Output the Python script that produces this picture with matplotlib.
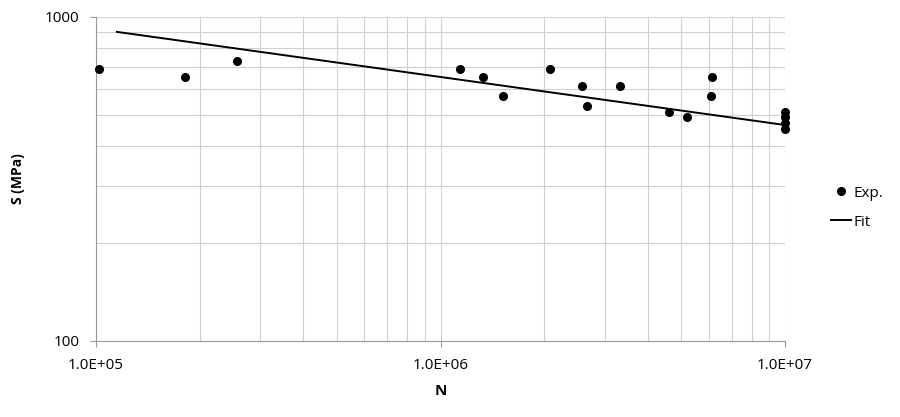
import numpy as np
import matplotlib.pyplot as plt
from matplotlib.ticker import LogLocator, FixedLocator, NullFormatter

plt.rcParams['font.family'] = ['Open Sans', 'DejaVu Sans']

# experimental points (cycles to failure, stress amplitude in MPa)
n_exp = [1.02e5, 1.81e5, 2.57e5, 1.14e6, 1.33e6, 1.52e6, 2.08e6, 2.58e6,
         2.66e6, 3.31e6, 4.61e6, 5.20e6, 6.12e6, 6.10e6,
         1.0e7, 1.0e7, 1.0e7, 1.0e7]
s_exp = [691, 653, 732, 691, 654, 571, 691, 611,
         530, 611, 510, 492, 654, 571,
         510, 490, 470, 451]

# power-law fit S = A * N^b
fit_A = 5058.0
fit_b = -0.1482
fit_nmin, fit_nmax = 1.15e5, 1.0e7

n_fit = np.geomspace(fit_nmin, fit_nmax, 50)
s_fit = fit_A * n_fit ** fit_b

fig = plt.figure(figsize=(9, 4.17), dpi=100)
ax = fig.add_axes([0.1067, 0.1823, 0.7655, 0.777])

ax.set_xscale('log')
ax.set_yscale('log')
ax.set_xlim(1e5, 1e7)
ax.set_ylim(100, 1000)

ax.plot(n_exp, s_exp, 'o', color='black', ms=5.5, label='Exp.', zorder=3,
        clip_on=False)
ax.plot(n_fit, s_fit, '-', color='black', lw=1.4, label='Fit', zorder=3)

ax.xaxis.set_major_locator(FixedLocator([1e5, 1e6, 1e7]))
ax.xaxis.set_minor_locator(LogLocator(base=10, subs=np.arange(2, 10)))
ax.yaxis.set_major_locator(FixedLocator([100, 1000]))
ax.yaxis.set_minor_locator(LogLocator(base=10, subs=np.arange(2, 10)))
ax.xaxis.set_minor_formatter(NullFormatter())
ax.yaxis.set_minor_formatter(NullFormatter())
ax.set_xticklabels(['1.0E+05', '1.0E+06', '1.0E+07'])
ax.set_yticklabels(['100', '1000'])

ax.grid(True, which='both', color='#d0d0d0', lw=0.8)
ax.set_axisbelow(True)
ax.tick_params(which='minor', length=0)
ax.tick_params(which='major', length=4, color='#999999', labelsize=11, pad=8)

for s in ['top', 'right']:
    ax.spines[s].set_visible(False)
for s in ['left', 'bottom']:
    ax.spines[s].set_color('#999999')

ax.set_xlabel('N', fontsize=11, fontweight='bold', labelpad=8)
ax.set_ylabel('S (MPa)', fontsize=10, fontweight='bold', labelpad=14)

fig.legend(loc='center left', bbox_to_anchor=(0.908, 0.502), frameon=False,
           fontsize=11, handlelength=1.3, handletextpad=0.2, labelspacing=0.9)

fig.savefig('out.png', dpi=100)
